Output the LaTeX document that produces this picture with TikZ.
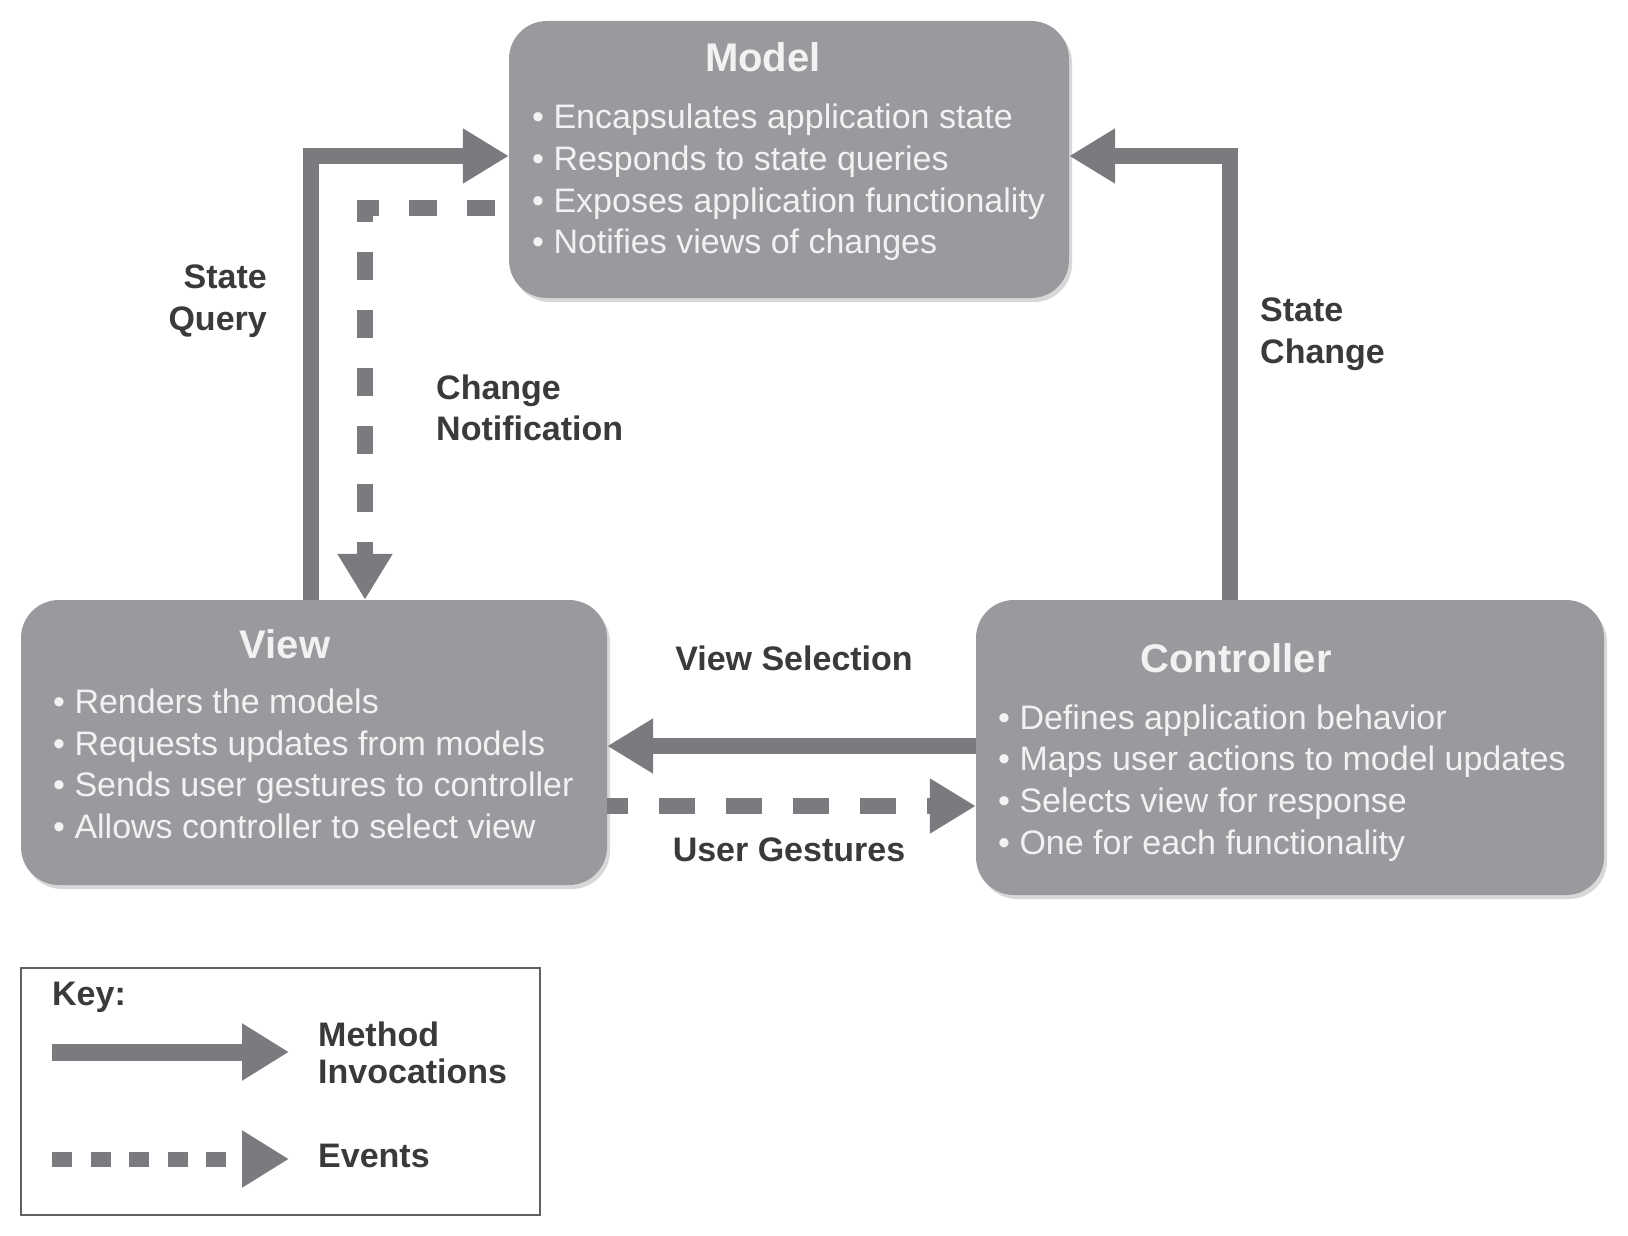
\documentclass[tikz,border=0pt]{standalone}
\usepackage{fontspec}
\setmainfont{Liberation Sans}
\usetikzlibrary{arrows.meta,shadows}
\definecolor{boxgray}{HTML}{9A9A9E}
\definecolor{arrowgray}{HTML}{7A7A7F}
\definecolor{labelgray}{HTML}{3A3A3C}
\definecolor{boxtext}{HTML}{F2F2F2}
\definecolor{keyborder}{HTML}{606060}
\begin{document}
\begin{tikzpicture}[x=1pt,y=-1pt,
  mvcbox/.style={fill=boxgray, rounded corners=38pt, inner sep=0pt,
    drop shadow={opacity=0.3,shadow xshift=3pt,shadow yshift=-4pt}},
  boxtitle/.style={text=boxtext, font=\bfseries\fontsize{40}{48}\selectfont, inner sep=0pt},
  boxbody/.style={text=boxtext, font=\fontsize{34}{41.6}\selectfont, align=left, anchor=west, inner sep=0pt},
  lbl/.style={text=labelgray, font=\bfseries\fontsize{34}{41.5}\selectfont, inner sep=0pt},
  keylbl/.style={text=labelgray, font=\bfseries\fontsize{34}{37}\selectfont, inner sep=0pt, align=left, anchor=west},
  methodarrow/.style={draw=arrowgray, line width=16pt, -{Triangle[length=46pt,width=52pt]}},
  eventarrow/.style={methodarrow, dash pattern=on 28pt off 30pt},
]
\fill[white] (0,0) rectangle (1628,1236);
\useasboundingbox (0,0) rectangle (1628,1236);

% boxes
\node[mvcbox, minimum width=560pt, minimum height=277pt] (model) at (789,159.5) {};
\node[mvcbox, minimum width=586pt, minimum height=285pt] (view) at (314,742.5) {};
\node[mvcbox, minimum width=628pt, minimum height=295pt] (ctrl) at (1290,747.5) {};

% titles
\node[boxtitle] (modelT) at (763,57) {Model};
\node[boxtitle] (viewT) at (285,644) {View};
\node[boxtitle] (ctrlT) at (1236,658) {Controller};

% bodies
\node[boxbody] (modelB) at (532,182.5) {• Encapsulates application state\\• Responds to state queries\\• Exposes application functionality\\• Notifies views of changes};
\node[boxbody] (viewB) at (53,764) {• Renders the models\\• Requests updates from models\\• Sends user gestures to controller\\• Allows controller to select view};
\node[boxbody] (ctrlB) at (998,783) {• Defines application behavior\\• Maps user actions to model updates\\• Selects view for response\\• One for each functionality};

% corner coordinates
\coordinate (sq) at (311,156);
\coordinate (sc) at (1230,156);
\coordinate (cn) at (365,208);
\coordinate (vs) at (0,746);
\coordinate (ug) at (0,806);

% connectors
\draw[methodarrow] (view.north -| sq) -- (sq) -- (model.west |- sq);
\draw[methodarrow] (ctrl.north -| sc) -- (sc) -- (model.east |- sc);
\draw[eventarrow, dash phase=44pt] (model.west |- cn) -- (cn) -- (view.north -| cn);
\draw[methodarrow] (ctrl.west |- vs) -- (view.east |- vs);
\draw[eventarrow, dash pattern=on 36pt off 31pt, dash phase=15pt] (view.east |- ug) -- (ctrl.west |- ug);

% labels
\node[lbl, align=right, anchor=east] (sqL) at (267,301) {State\\Query};
\node[lbl, align=left, anchor=west] (cnL) at (436,408) {Change\\Notification};
\node[lbl, align=left, anchor=west] (scL) at (1260,334) {State\\Change};
\node[lbl] (vsL) at (794,658) {View Selection};
\node[lbl] (ugL) at (789,850) {User Gestures};

% key
\node[draw=keyborder, line width=2pt, minimum width=519pt, minimum height=247pt, inner sep=0pt] (key) at (280.5,1091.5) {};
\node[keylbl] (keyT) at (52,997) {Key:};
\coordinate (k1a) at (52,1052);
\coordinate (k1b) at (289,1052);
\coordinate (k2a) at (52,1159);
\coordinate (k2b) at (289,1159);
\draw[methodarrow, line width=17pt, -{Triangle[length=47pt,width=54pt]}] (k1a) -- (k1b);
\draw[methodarrow, line width=15pt, dash pattern=on 20pt off 18.5pt, -{Triangle[length=47pt,width=54pt]}] (k2a) -- (k2b);
\node[keylbl] (keyM) at (318,1053) {Method\\Invocations};
\node[keylbl] (keyE) at (318,1156) {Events};
\end{tikzpicture}
\end{document}
